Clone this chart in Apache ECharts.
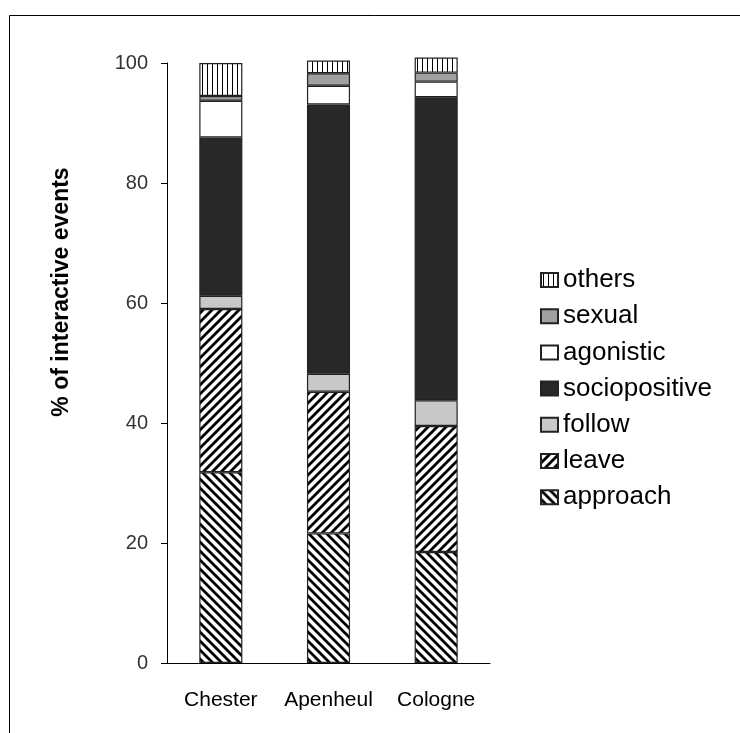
<!DOCTYPE html>
<html>
<head>
<meta charset="utf-8">
<script src="https://cdn.jsdelivr.net/npm/echarts@6/dist/echarts.min.js"></script>
<style>html,body{margin:0;padding:0;background:#fff;}#c{width:740px;height:733px;}</style>
</head>
<body>
<div id="c"></div>
<script>
const categories = ['Chester', 'Apenheul', 'Cologne'];
const approach     = [31.8, 21.6, 18.5];
const leave        = [27.2, 23.6, 21.0];
const follow       = [2.2, 3.0, 4.3];
const sociopositive= [26.4, 44.9, 50.5];
const agonistic    = [6.1, 3.1, 2.6];
const sexual       = [0.8, 2.1, 1.5];
const others       = [5.5, 2.1, 2.5];
const seriesNames  = ['approach', 'leave', 'follow', 'sociopositive', 'agonistic', 'sexual', 'others'];
const yTicks = [0, 20, 40, 60, 80, 100];

function diag(dir) {
  const n = 9;
  const c = document.createElement('canvas');
  c.width = n; c.height = n;
  const g = c.getContext('2d');
  g.fillStyle = '#fff'; g.fillRect(0, 0, n, n);
  g.strokeStyle = '#000'; g.lineWidth = 2.8;
  g.beginPath();
  for (let k = -1; k <= 1; k++) {
    if (dir === 'back') { g.moveTo(k * n - 2, -2); g.lineTo(k * n + n + 2, n + 2); }
    else { g.moveTo(k * n - 2, n + 2); g.lineTo(k * n + n + 2, -2); }
  }
  g.stroke();
  return { image: c, repeat: 'repeat' };
}
function vert() {
  const c = document.createElement('canvas');
  c.width = 5; c.height = 5;
  const g = c.getContext('2d');
  g.fillStyle = '#fff'; g.fillRect(0, 0, 5, 5);
  g.fillStyle = '#000'; g.fillRect(2, 0, 1, 5);
  return { image: c, repeat: 'repeat' };
}

const fills = [diag('back'), diag('fwd'), '#c8c8c8', '#282828', '#ffffff', '#a0a0a0', vert()];
const values = [approach, leave, follow, sociopositive, agonistic, sexual, others];

const chart = echarts.init(document.getElementById('c'));
const FONT = 'Liberation Sans, Arial, sans-serif';
chart.setOption({
  animation: false,
  backgroundColor: '#fff',
  grid: { left: 167, right: 250, top: 63, bottom: 70 },
  xAxis: {
    type: 'category', data: categories,
    axisLine: { lineStyle: { color: '#000', width: 1 } },
    axisTick: { length: 7, lineStyle: { color: '#000' } },
    axisLabel: { fontSize: 21, color: '#000', fontFamily: FONT, margin: 27, interval: 0, hideOverlap: false }
  },
  yAxis: {
    type: 'value', min: yTicks[0], max: yTicks[yTicks.length - 1], interval: 20,
    axisLine: { show: true, lineStyle: { color: '#000', width: 1 } },
    axisTick: { show: true, length: 6, lineStyle: { color: '#000' } },
    splitLine: { show: false },
    axisLabel: { fontSize: 20, color: '#333', fontFamily: FONT, margin: 19 }
  },
  legend: {
    orient: 'vertical', left: 540, top: 267, padding: 0,
    icon: 'rect',
    itemWidth: 17, itemHeight: 14, itemGap: 10.2,
    data: seriesNames.slice().reverse(),
    textStyle: { fontSize: 26, lineHeight: 26, color: '#000', fontFamily: FONT }
  },
  series: seriesNames.map((name, i) => ({
    name, type: 'bar', stack: 'all', data: values[i], barWidth: '40%', clip: false,
    itemStyle: { color: fills[i], borderColor: '#222', borderWidth: 1.2 }
  })),
  graphic: [
    { type: 'polyline', shape: { points: [[9.5, 733], [9.5, 15.5], [740, 15.5]] },
      style: { stroke: '#000', lineWidth: 1, fill: null } },
    { type: 'text', x: 62, y: 292, rotation: Math.PI / 2,
      style: { text: '% of interactive events', fontSize: 23, fontWeight: 'bold', fontFamily: FONT,
               fill: '#000', textAlign: 'center', textVerticalAlign: 'middle' } }
  ]
});
</script>
</body>
</html>
